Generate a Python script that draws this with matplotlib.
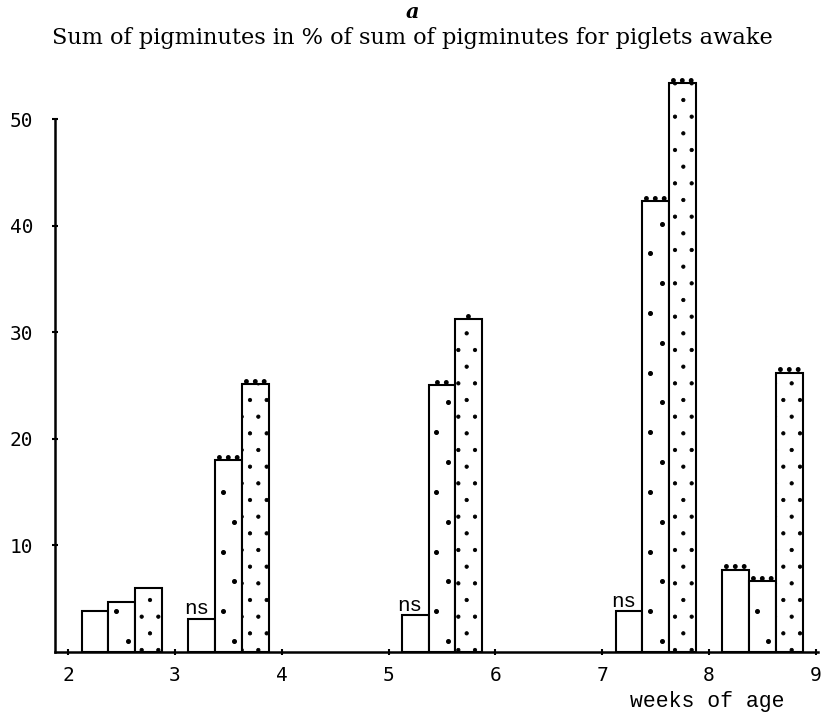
import numpy as np
import matplotlib
matplotlib.use("Agg")
import matplotlib.pyplot as plt

# --- values (% of pigminutes awake, per week interval) ---
week_start = [2, 3, 5, 7, 8]
white_bars = [3.8, 3.1, 3.45, 3.8, 7.7]
sparse_bars = [4.7, 18.0, 25.0, 42.3, 6.6]
dense_bars = [5.95, 25.1, 31.2, 53.4, 26.2]
white_sig = ["", "ns", "ns", "ns", "***"]
sparse_sig = ["", "***", "**", "***", "***"]
dense_sig = ["", "***", "*", "***", "***"]
x_ticks = [2, 3, 4, 5, 6, 7, 8, 9]
y_ticks = [10, 20, 30, 40, 50]

BAR_W = 0.25
MONO = 'DejaVu Sans Mono'
TYPE = 'Liberation Mono'

plt.rcParams['hatch.linewidth'] = 0.6

fig = plt.figure(figsize=(8.24, 7.13), dpi=100)
ax = fig.add_axes([0.0667, 0.086, 0.926, 0.8365])

x0 = np.array(week_start, dtype=float)
xa = x0 + BAR_W
xb = x0 + 2 * BAR_W
xc = x0 + 3 * BAR_W

edge = dict(edgecolor='black', linewidth=1.5, width=BAR_W, zorder=2)
ax.bar(xa, white_bars, color='white', **edge)
ax.bar(xb, sparse_bars, color='white', **edge)
ax.bar(xc, dense_bars, color='white', hatch='.', **edge)

# sparse stipple for the middle bars (staggered left / right)
for x, h in zip(xb, sparse_bars):
    ys = np.arange(1.0, h - 0.8, 2.8)
    xs = x + np.where(np.arange(len(ys)) % 2 == 0, 0.055, -0.055)
    ax.plot(xs, ys, 'o', color='black', markersize=2.6, linestyle='none', zorder=3)


def mark(x, h, txt):
    if not txt:
        return
    if txt == 'ns':
        ax.annotate('ns', (x, h), xytext=(-4, 3), textcoords='offset points',
                    ha='center', va='baseline', fontsize=15, family=TYPE)
    else:
        # significance stars, printed as little blobs in the original
        ax.annotate('\u2022' * len(txt), (x, h), xytext=(0, -2),
                    textcoords='offset points', ha='center', va='baseline',
                    fontsize=10, fontweight='bold')


for xs, hs, sig in [(xa, white_bars, white_sig),
                    (xb, sparse_bars, sparse_sig),
                    (xc, dense_bars, dense_sig)]:
    for x, h, s in zip(xs, hs, sig):
        mark(x, h, s)

# axes styling
ax.spines['top'].set_visible(False)
ax.spines['right'].set_visible(False)
ax.spines['left'].set_bounds(0, 50)
ax.spines['left'].set_linewidth(1.8)
ax.spines['bottom'].set_linewidth(1.8)
ax.set_xlim(1.875, 9.02)
ax.set_ylim(0, 56)
ax.set_xticks(x_ticks)
ax.set_yticks(y_ticks)
ax.tick_params(direction='inout', length=5, width=1.5, labelsize=14)
ax.tick_params(axis='y', pad=13)
ax.tick_params(axis='x', pad=8)
for lab in ax.get_xticklabels() + ax.get_yticklabels():
    lab.set_family(MONO)

ax.set_xlabel('weeks of age', fontsize=15.5, family=TYPE)
ax.xaxis.set_label_coords(0.855, -0.066)

fig.text(0.5, 1 - 12 / 713, 'a', ha='center', va='center', fontsize=15,
         family='DejaVu Serif', style='italic', fontweight='bold')
fig.text(0.5, 1 - 38 / 713,
         'Sum of pigminutes in % of sum of pigminutes for piglets awake',
         ha='center', va='center', fontsize=16.2, family='DejaVu Serif')

fig.savefig('out.png', dpi=100)
